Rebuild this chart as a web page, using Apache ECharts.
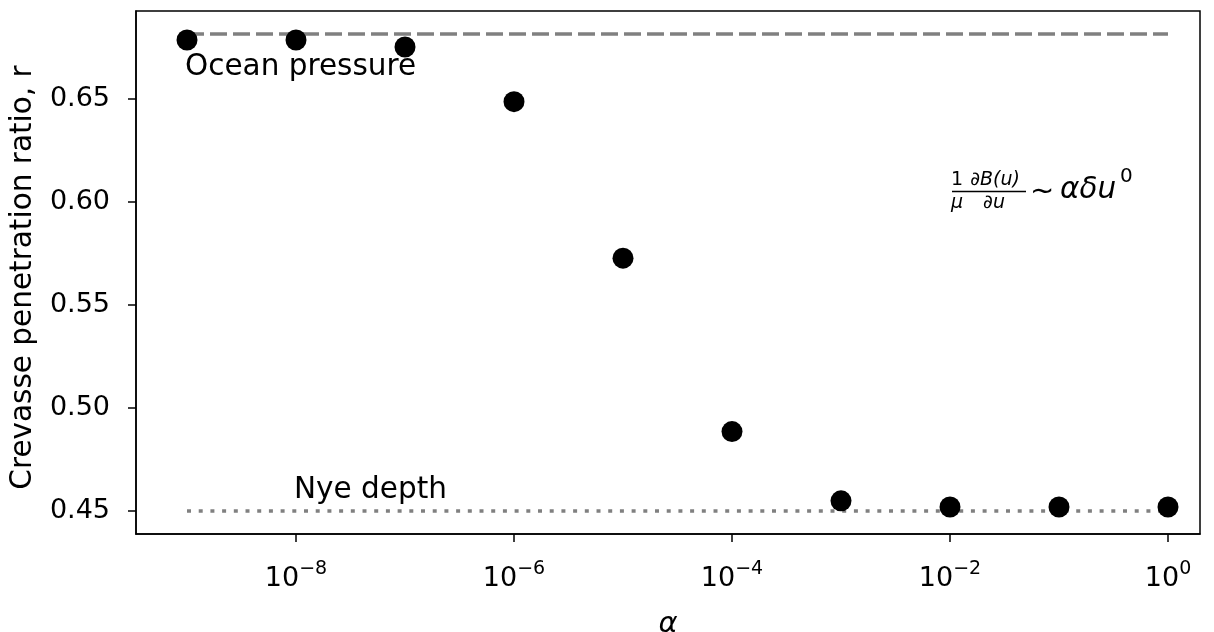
<!DOCTYPE html>
<html>
<head>
<meta charset="utf-8">
<script src="https://cdn.jsdelivr.net/npm/echarts@6/dist/echarts.min.js"></script>
<style>
  html, body { margin: 0; padding: 0; background: #fff; }
  #chart { width: 1214px; height: 632px; }
</style>
</head>
<body>
<div id="chart"></div>
<script>
  // alpha values and penetration ratios
  const alphaValues = [1e-9, 1e-8, 1e-7, 1e-6, 1e-5, 1e-4, 1e-3, 1e-2, 1e-1, 1];
  const ratioValues = [0.6786, 0.6786, 0.6752, 0.6487, 0.5727, 0.4885, 0.4549, 0.4519, 0.4519, 0.4519];
  const oceanPressure = 0.6815; // dashed reference
  const nyeDepth = 0.45;        // dotted reference
  const refRange = [1e-9, 1];
  const xTicks = [1e-8, 1e-6, 1e-4, 1e-2, 1];
  const yTicks = [0.45, 0.5, 0.55, 0.6, 0.65];

  const FONT = 'DejaVu Sans';
  const chart = echarts.init(document.getElementById('chart'));

  const option = {
    animation: false,
    grid: {
      left: 136, right: 14, top: 11, bottom: 98,
      outerBoundsMode: 'none',
      containLabel: false,
      show: true,
      borderColor: '#000',
      borderWidth: 1.5,
      backgroundColor: 'transparent'
    },
    xAxis: {
      type: 'log',
      logBase: 10,
      min: Math.pow(10, -9.468),
      max: Math.pow(10, 0.2936),
      name: 'α',
      nameLocation: 'middle',
      nameGap: 76,
      nameTextStyle: { fontFamily: FONT, fontStyle: 'italic', fontSize: 29, color: '#000' },
      axisLine: { lineStyle: { color: '#000', width: 1.5 } },
      axisTick: { customValues: xTicks, length: 8, lineStyle: { color: '#000', width: 1.5 } },
      axisLabel: {
        customValues: xTicks,
        margin: 26,
        formatter: function (v) {
          const e = Math.round(Math.log10(v));
          return '{b|10}{s|' + (e < 0 ? '\u2212' + (-e) : e) + '}';
        },
        rich: {
          b: { fontFamily: FONT, fontSize: 27, color: '#000', verticalAlign: 'bottom', lineHeight: 32 },
          s: { fontFamily: FONT, fontSize: 19, color: '#000', verticalAlign: 'top', lineHeight: 32, padding: [0, 0, 12, 0] }
        }
      },
      splitLine: { show: false },
      minorTick: { show: false }
    },
    yAxis: {
      type: 'value',
      min: 0.4388,
      max: 0.6927,
      name: 'Crevasse penetration ratio, r',
      nameLocation: 'middle',
      nameGap: 98,
      nameTextStyle: { fontFamily: FONT, fontSize: 29.5, color: '#000', padding: [0, 10, 0, 0] },
      axisLine: { show: true, lineStyle: { color: '#000', width: 1.5 } },
      axisTick: { show: true, customValues: yTicks, length: 8, lineStyle: { color: '#000', width: 1.5 } },
      axisLabel: {
        customValues: yTicks,
        margin: 26,
        fontFamily: FONT,
        fontSize: 27,
        color: '#000',
        formatter: function (v) { return v.toFixed(2); }
      },
      splitLine: { show: false }
    },
    series: [
      {
        name: 'ocean',
        type: 'line',
        data: refRange.map(a => [a, oceanPressure]),
        symbol: 'none',
        lineStyle: { color: '#808080', width: 3.5, type: [17, 6] },
        z: 1
      },
      {
        name: 'nye',
        type: 'line',
        data: refRange.map(a => [a, nyeDepth]),
        symbol: 'none',
        lineStyle: { color: '#808080', width: 3.5, type: [4, 7.7] },
        z: 1
      },
      {
        name: 'r',
        type: 'scatter',
        data: alphaValues.map((a, i) => [a, ratioValues[i]]),
        symbol: 'circle',
        symbolSize: 21,
        itemStyle: { color: '#000', opacity: 1 },
        z: 3
      }
    ],
    graphic: [
      { type: 'text', left: 185, top: 52, z: 10,
        style: { text: 'Ocean pressure', fontFamily: FONT, fontSize: 29.5, fill: '#000' } },
      { type: 'text', left: 294, top: 475, z: 10,
        style: { text: 'Nye depth', fontFamily: FONT, fontSize: 29.5, fill: '#000' } },
      // formula  (1/mu) dB(u)/du ~ alpha delta u^0
      { type: 'text', x: 957, y: 180, z: 10,
        style: { text: '1', fontFamily: FONT, fontSize: 19, fill: '#000', align: 'center', verticalAlign: 'middle' } },
      { type: 'text', x: 957, y: 203, z: 10,
        style: { text: 'μ', fontFamily: FONT, fontStyle: 'italic', fontSize: 19, fill: '#000', align: 'center', verticalAlign: 'middle' } },
      { type: 'text', x: 995, y: 180, z: 10,
        style: { text: '∂B(u)', fontFamily: FONT, fontStyle: 'italic', fontSize: 19, fill: '#000', align: 'center', verticalAlign: 'middle' } },
      { type: 'text', x: 994, y: 203, z: 10,
        style: { text: '∂u', fontFamily: FONT, fontStyle: 'italic', fontSize: 19, fill: '#000', align: 'center', verticalAlign: 'middle' } },
      { type: 'line', z: 10,
        shape: { x1: 952, y1: 191.5, x2: 1026, y2: 191.5 },
        style: { stroke: '#000', lineWidth: 1.5 } },
      { type: 'text', x: 1030, y: 192, z: 10,
        style: { text: '~', fontFamily: FONT, fontSize: 29, fill: '#000', verticalAlign: 'middle' } },
      { type: 'text', x: 1060, y: 190, z: 10,
        style: { text: 'αδu', fontFamily: FONT, fontStyle: 'italic', fontSize: 29.5, fill: '#000', verticalAlign: 'middle' } },
      { type: 'text', x: 1120, y: 177, z: 10,
        style: { text: '0', fontFamily: FONT, fontSize: 20, fill: '#000', verticalAlign: 'middle' } }
    ]
  };

  chart.setOption(option);
</script>
</body>
</html>
